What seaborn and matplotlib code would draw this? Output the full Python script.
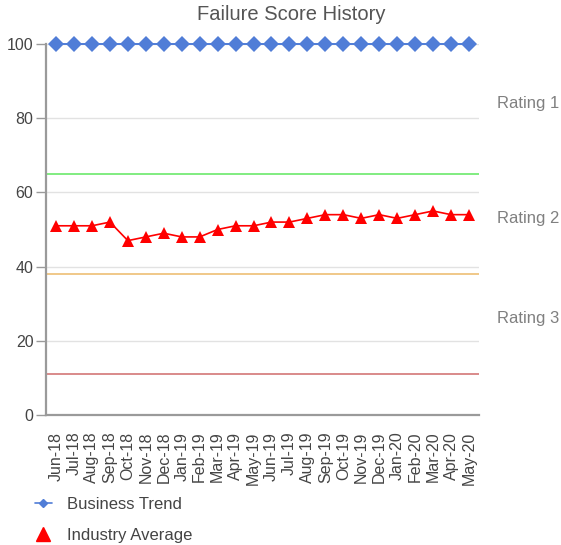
import pandas as pd
import matplotlib.pyplot as plt
import seaborn as sns
from matplotlib.lines import Line2D

sns.set_style('white')
plt.rcParams['font.family'] = ['Liberation Sans', 'DejaVu Sans']

months = ['Jun-18', 'Jul-18', 'Aug-18', 'Sep-18', 'Oct-18', 'Nov-18', 'Dec-18',
          'Jan-19', 'Feb-19', 'Mar-19', 'Apr-19', 'May-19', 'Jun-19', 'Jul-19',
          'Aug-19', 'Sep-19', 'Oct-19', 'Nov-19', 'Dec-19', 'Jan-20', 'Feb-20',
          'Mar-20', 'Apr-20', 'May-20']
business_trend = [100, 100, 100, 100, 100, 100, 100, 100, 100, 100, 100, 100,
                  100, 100, 100, 100, 100, 100, 100, 100, 100, 100, 100, 100]
industry_avg = [51, 51, 51, 52, 47, 48, 49, 48, 48, 50, 51, 51,
                52, 52, 53, 54, 54, 53, 54, 53, 54, 55, 54, 54]

# rating band thresholds
rating_levels = [65, 38, 11]
rating_colors = ['#80ec80', '#f0c888', '#d98a8a']
rating_names = ['Rating 1', 'Rating 2', 'Rating 3']

df = pd.DataFrame({'month': months, 'business': business_trend, 'industry': industry_avg})

fig = plt.figure(figsize=(5.61, 5.45), dpi=100)
ax = fig.add_axes([46 / 561, 1 - 415 / 545, 433 / 561, 371 / 545])

blue = '#507dd7'
red = '#ff0000'

for lvl, c in zip(rating_levels, rating_colors):
    ax.axhline(lvl, color=c, lw=1.4, zorder=1.5)

sns.lineplot(data=df, x='month', y='business', sort=False, ax=ax, color=blue,
             marker='D', markersize=8.4, markeredgewidth=0, lw=1.4, clip_on=False, zorder=3)
sns.lineplot(data=df, x='month', y='industry', sort=False, ax=ax, color=red,
             marker='^', markersize=9, markeredgewidth=0, lw=1.2, zorder=3)

ax.set_xlim(-0.56, len(months) - 1 + 0.56)
ax.set_ylim(0, 100)
ax.set_yticks([0, 20, 40, 60, 80, 100])
ax.set_xlabel('')
ax.set_ylabel('')
ax.grid(axis='y', color='#e2e2e2', lw=1)
ax.set_axisbelow(True)

for s in ['top', 'right']:
    ax.spines[s].set_visible(False)
for s in ['left', 'bottom']:
    ax.spines[s].set_color('#9a9a9a')
    ax.spines[s].set_linewidth(1.6)

ax.tick_params(axis='y', length=7, width=1, color='#9a9a9a', pad=2,
               labelsize=11.5, labelcolor='#444444', left=True)
ax.tick_params(axis='x', length=0, pad=12, labelsize=11.5, labelcolor='#444444',
               rotation=90)

# rating labels to the right of the plot
bounds = [100] + rating_levels
for i, name in enumerate(rating_names):
    ymid = (bounds[i] + bounds[i + 1]) / 2 + 1.5
    ax.text(1.042, ymid, name, transform=ax.get_yaxis_transform(),
            fontsize=12, color='#808080', va='center', ha='left')

fig.text(291.5 / 561, 1 - 15 / 545, 'Failure Score History', fontsize=14.5,
         color='#555555', ha='center', va='center')

handles = [Line2D([], [], color=blue, marker='D', markersize=4, lw=1.2),
           Line2D([], [], color=red, marker='^', markersize=10, lw=0)]
fig.legend(handles, ['Business Trend', 'Industry Average'], loc='upper left',
           bbox_to_anchor=(35 / 561, 1 - 497 / 545), frameon=False, fontsize=12,
           handlelength=1.0, handletextpad=0.9, labelspacing=0.95,
           borderpad=0, borderaxespad=0, labelcolor='#444444')

fig.savefig('out.png', dpi=100)
